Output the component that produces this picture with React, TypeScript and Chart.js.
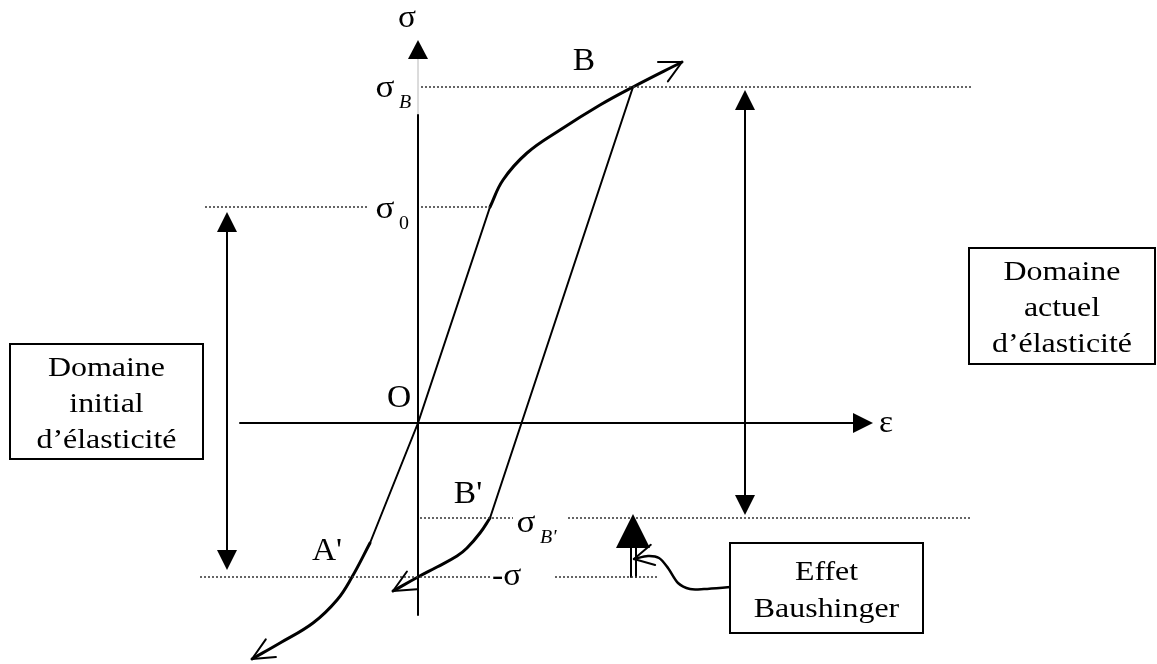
import React, { useEffect, useRef } from "react";
import { Chart, registerables } from "chart.js";

Chart.register(...registerables);

// Strain ε (x) and stress σ (y) of the loading path, origin O at (0, 0).
const elasticLoad = [[0, 0], [0.72, 2.16]];
const hardening = [[0.72, 2.16], [0.85, 2.43], [1.09, 2.7], [1.42, 2.93], [1.82, 3.18], [2.15, 3.36], [2.64, 3.61]];
const unloading = [[2.15, 3.36], [0.72, -0.95]];
const reverseYield = [[0.72, -0.95], [0.62, -1.1], [0.49, -1.25], [0.39, -1.33], [0.19, -1.44], [0, -1.54], [-0.25, -1.68]];
const elasticCompression = [[0, 0], [-0.48, -1.2]];
const compressionYield = [[-0.48, -1.2], [-0.66, -1.54], [-0.81, -1.77], [-1.05, -2.0], [-1.38, -2.2], [-1.66, -2.36]];

// Stress levels
const sigmaB = 3.36;
const sigma0 = 2.16;
const sigmaBPrime = -0.95;
const minusSigma = -1.54;

// Dotted reference segments: [ε start, ε end, σ level]
const dottedSegments = [
  [0.03, 5.54, sigmaB],
  [-2.13, -0.5, sigma0],
  [0.03, 0.72, sigma0],
  [0.02, 0.95, sigmaBPrime],
  [1.5, 5.54, sigmaBPrime],
  [-2.18, 0.74, minusSigma],
  [1.37, 2.39, minusSigma],
];

// Axes extents
const sigmaAxis = [[0, -1.92], [0, 3.08]];
const sigmaAxisFaint = [[0, 3.08], [0, 3.64]];
const sigmaAxisTip = 3.83;
const epsAxis = [[-1.78, 0], [4.35, 0]];
const epsAxisTip = 4.55;

// Elastic range double arrows: [ε, σ top tip, σ bottom tip]
const initialRange = [-1.91, 2.11, -1.47];
const currentRange = [3.27, 3.33, -0.92];

// Bauschinger marker
const effetTip = [2.15, -0.91];
const effetStem = [[2.13, 2.18], [-1.25, -1.54]];
const effetLeader = [[3.13, -1.64], [2.86, -1.66], [2.72, -1.66], [2.6, -1.6], [2.5, -1.45], [2.41, -1.35], [2.3, -1.33], [2.16, -1.36]];

// Text boxes: [ε left, σ top, ε right, σ bottom]
const initialBox = [-4.08, 0.79, -2.15, -0.36];
const currentBox = [5.51, 1.75, 7.37, 0.59];
const effetBox = [3.12, -1.2, 5.05, -2.1];
const initialBoxLines = ["Domaine", "initial", "d\u2019élasticité"];
const currentBoxLines = ["Domaine", "actuel", "d\u2019élasticité"];
const effetBoxLines = ["Effet", "Baushinger"];

// Point labels: text, ε, σ (baseline)
const pointLabels: [string, number, number][] = [
  ["σ", -0.11, 3.96],
  ["O", -0.19, 0.16],
  ["B", 1.66, 3.53],
  ["A'", -0.91, -1.37],
  ["B'", 0.5, -0.8],
  ["ε", 4.68, -0.09],
];
// Level labels: symbol, subscript, ε of symbol centre, σ baseline, italic subscript
const levelLabels: [string, string, number, number, boolean][] = [
  ["σ", "B", -0.33, 3.26, true],
  ["σ", "0", -0.33, 2.05, false],
  ["σ", "B'", 1.08, -1.09, true],
];

const FONT = "'Liberation Serif', 'Times New Roman', serif";

const toXY = (pts: number[][]) => pts.map(([x, y]) => ({ x, y }));

const lineSet = (pts: number[][], width: number, extra: any = {}) => ({
  data: toXY(pts),
  showLine: true,
  borderColor: "#000",
  borderWidth: width,
  pointRadius: 0,
  fill: false,
  tension: 0,
  borderCapStyle: "round",
  borderJoinStyle: "round",
  ...extra,
});

const smooth = { tension: 0.4 };

const decorPlugin = {
  id: "decor",
  afterDatasetsDraw(chart: any) {
    const { ctx } = chart;
    const xs = chart.scales.x;
    const ys = chart.scales.y;
    const px = (v: number) => xs.getPixelForValue(v);
    const py = (v: number) => ys.getPixelForValue(v);

    const filledHead = (tx: number, ty: number, ang: number, len: number, half: number) => {
      const bx = tx - Math.cos(ang) * len;
      const by = ty - Math.sin(ang) * len;
      const nx = -Math.sin(ang) * half;
      const ny = Math.cos(ang) * half;
      ctx.beginPath();
      ctx.moveTo(tx, ty);
      ctx.lineTo(bx + nx, by + ny);
      ctx.lineTo(bx - nx, by - ny);
      ctx.closePath();
      ctx.fillStyle = "#000";
      ctx.fill();
    };

    const openHead = (pts: number[][], len: number, spread: number) => {
      const a = pts[pts.length - 2];
      const b = pts[pts.length - 1];
      const tx = px(b[0]);
      const ty = py(b[1]);
      const back = Math.atan2(py(a[1]) - ty, px(a[0]) - tx);
      ctx.beginPath();
      for (const s of [-spread, spread]) {
        ctx.moveTo(tx, ty);
        ctx.lineTo(tx + Math.cos(back + s) * len, ty + Math.sin(back + s) * len);
      }
      ctx.strokeStyle = "#000";
      ctx.lineWidth = 2;
      ctx.lineCap = "round";
      ctx.stroke();
    };

    const text = (str: string, x: number, y: number, size: number, stretch: number, align: CanvasTextAlign, italic = false) => {
      ctx.save();
      ctx.translate(x, y);
      ctx.scale(stretch, 1);
      ctx.font = `${italic ? "italic " : ""}${size}px ${FONT}`;
      ctx.fillStyle = "#000";
      ctx.textAlign = align;
      ctx.textBaseline = "alphabetic";
      ctx.fillText(str, 0, 0);
      ctx.restore();
    };

    const box = (b: number[], lines: string[], lineGap: number) => {
      const x0 = px(b[0]);
      const y0 = py(b[1]);
      const x1 = px(b[2]);
      const y1 = py(b[3]);
      ctx.save();
      ctx.fillStyle = "#fff";
      ctx.fillRect(x0, y0, x1 - x0, y1 - y0);
      ctx.strokeStyle = "#000";
      ctx.lineWidth = 2;
      ctx.strokeRect(x0, y0, x1 - x0, y1 - y0);
      ctx.restore();
      const cx = (x0 + x1) / 2;
      const cy = (y0 + y1) / 2;
      const first = cy - ((lines.length - 1) * lineGap) / 2 + 10;
      lines.forEach((l, i) => text(l, cx, first + i * lineGap, 28, 1.14, "center"));
    };

    ctx.save();
    // axis arrowheads
    filledHead(px(0), py(sigmaAxisTip), -Math.PI / 2, 19, 10);
    filledHead(px(epsAxisTip), py(0), 0, 20, 10);
    // elastic range arrowheads
    for (const r of [initialRange, currentRange]) {
      filledHead(px(r[0]), py(r[1]), -Math.PI / 2, 20, 10);
      filledHead(px(r[0]), py(r[2]), Math.PI / 2, 20, 10);
    }
    // Bauschinger marker
    filledHead(px(effetTip[0]), py(effetTip[1]), -Math.PI / 2, 34, 17);

    // open arrowheads at the ends of the curves
    openHead(hardening, 24, 0.47);
    openHead(reverseYield, 24, 0.44);
    openHead(compressionYield, 24, 0.44);
    openHead(effetLeader, 22, 0.49);

    // text boxes
    box(initialBox, initialBoxLines, 36);
    box(currentBox, currentBoxLines, 36);
    box(effetBox, effetBoxLines, 37);

    // labels
    for (const [t, e, s] of pointLabels) {
      text(t, px(e), py(s), 31, 1.08, "center");
    }
    for (const [sym, sub, e, s, it] of levelLabels) {
      text(sym, px(e), py(s), 32, 1.1, "center");
      text(sub, px(e) + 14, py(s) + 11, 19, 1.05, "left", it);
    }
    text("-σ", px(0.74), py(minusSigma) + 8, 32, 1.05, "left");
    ctx.restore();
  },
};

export default function App() {
  const ref = useRef<HTMLCanvasElement | null>(null);

  useEffect(() => {
    if (!ref.current) return;
    const dotted = { borderDash: [2, 2], borderColor: "#333", borderWidth: 1.5, borderCapStyle: "butt" };
    const datasets: any[] = [
      ...dottedSegments.map(([a, b, s]) => lineSet([[a, s], [b, s]], 1.5, dotted)),
      lineSet(sigmaAxis, 2),
      lineSet(sigmaAxisFaint, 1, { borderColor: "#b8b8b8" }),
      lineSet(epsAxis, 2),
      lineSet(elasticLoad, 2),
      lineSet(hardening, 3, smooth),
      lineSet(unloading, 2),
      lineSet(reverseYield, 3, smooth),
      lineSet(elasticCompression, 2),
      lineSet(compressionYield, 3, smooth),
      lineSet([[initialRange[0], initialRange[1] - 0.15], [initialRange[0], initialRange[2] + 0.15]], 2),
      lineSet([[currentRange[0], currentRange[1] - 0.15], [currentRange[0], currentRange[2] + 0.15]], 2),
      lineSet([[effetStem[0][0], effetStem[1][0]], [effetStem[0][0], effetStem[1][1]]], 2),
      lineSet([[effetStem[0][1], effetStem[1][0]], [effetStem[0][1], effetStem[1][1]]], 2),
      lineSet(effetLeader, 2.5, { tension: 0.3 }),
    ];

    const chart = new Chart(ref.current, {
      type: "scatter",
      data: { datasets },
      options: {
        animation: false,
        responsive: false,
        devicePixelRatio: 1,
        layout: { padding: 0 },
        plugins: { legend: { display: false }, tooltip: { enabled: false }, title: { display: false } },
        scales: {
          x: { type: "linear", min: -4.18, max: 7.39, display: false },
          y: { type: "linear", min: -2.41, max: 4.23, display: false },
        },
      },
      plugins: [decorPlugin],
    });
    return () => chart.destroy();
  }, []);

  return (
    <div style={{ position: "absolute", left: 0, top: 0, width: 1157, height: 664, background: "#fff" }}>
      <canvas ref={ref} width={1157} height={664} style={{ display: "block" }} />
    </div>
  );
}
